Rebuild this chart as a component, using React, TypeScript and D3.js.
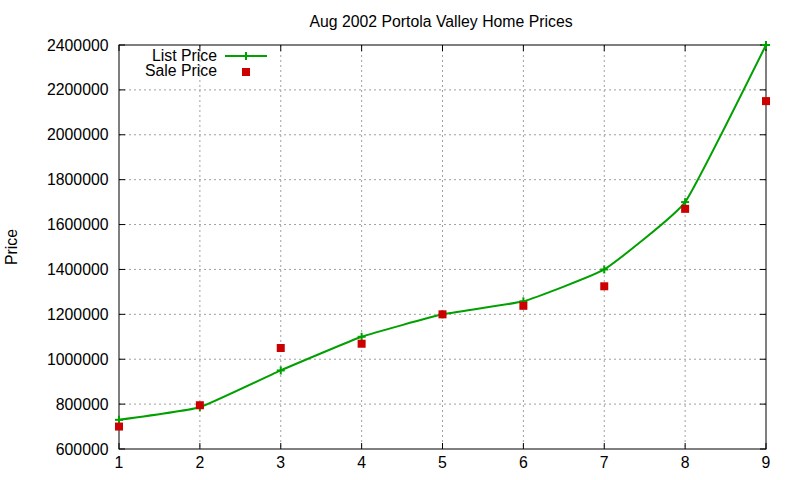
import React from "react";
import * as d3 from "d3";

const xValues = [1, 2, 3, 4, 5, 6, 7, 8, 9];
const listPrice = [730000, 786000, 950000, 1100000, 1200000, 1258000, 1400000, 1700000, 2400000];
const salePrice = [700000, 795000, 1050000, 1069000, 1200000, 1238000, 1325000, 1670000, 2150000];
const yTicks = [600000, 800000, 1000000, 1200000, 1400000, 1600000, 1800000, 2000000, 2200000, 2400000];
const xTicks = [1, 2, 3, 4, 5, 6, 7, 8, 9];
const title = "Aug 2002 Portola Valley Home Prices";
const yLabel = "Price";
const seriesNames = ["List Price", "Sale Price"];

export default function App() {
  const W = 800, H = 480;
  const left = 119, right = 766, top = 45, bottom = 449;
  const x = d3.scaleLinear().domain([1, 9]).range([left, right]);
  const y = d3.scaleLinear().domain([600000, 2400000]).range([bottom, top]);
  const green = "#00a000";
  const red = "#cc0000";
  const font = "'Liberation Sans', Arial, sans-serif";
  const fs = 15.8;
  const line = d3
    .line<number>()
    .x((_, i) => x(xValues[i]))
    .y((d) => y(d))
    .curve(d3.curveCardinal.tension(0.65));
  const tl = 6;
  return (
    <svg width={W} height={H} style={{ position: "absolute", left: 0, top: 0, background: "#fff" }} fontFamily={font}>
      <rect x={0} y={0} width={W} height={H} fill="#fff" />
      {/* grid */}
      {yTicks.slice(1, -1).map((t) => (
        <line key={"gy" + t} x1={left} x2={right} y1={y(t)} y2={y(t)} stroke="#a0a0a0" strokeWidth={1} strokeDasharray="2,3" />
      ))}
      {xTicks.slice(1, -1).map((t) => (
        <line key={"gx" + t} x1={x(t)} x2={x(t)} y1={top} y2={bottom} stroke="#a0a0a0" strokeWidth={1} strokeDasharray="2,3" />
      ))}
      {/* ticks */}
      {yTicks.map((t) => (
        <g key={"ty" + t}>
          <line x1={left} x2={left + tl} y1={y(t)} y2={y(t)} stroke="#000" />
          <line x1={right} x2={right - tl} y1={y(t)} y2={y(t)} stroke="#000" />
          <text x={108.5} y={y(t) + 5.5} textAnchor="end" fontSize={fs} fill="#000">
            {t}
          </text>
        </g>
      ))}
      {xTicks.map((t) => (
        <g key={"tx" + t}>
          <line x1={x(t)} x2={x(t)} y1={bottom} y2={bottom - tl} stroke="#000" />
          <line x1={x(t)} x2={x(t)} y1={top} y2={top + tl} stroke="#000" />
          <text x={x(t)} y={bottom + 19} textAnchor="middle" fontSize={fs} fill="#000">
            {t}
          </text>
        </g>
      ))}
      <rect x={left} y={top} width={right - left} height={bottom - top} fill="none" stroke="#000" strokeWidth={1} />
      {/* title & label */}
      <text x={441} y={27} textAnchor="middle" fontSize={fs} fill="#000">
        {title}
      </text>
      <text transform={`translate(17,${(top + bottom) / 2}) rotate(-90)`} textAnchor="middle" fontSize={fs} fill="#000">
        {yLabel}
      </text>
      {/* list line */}
      <path d={line(listPrice) || ""} fill="none" stroke={green} strokeWidth={2} />
      {listPrice.map((v, i) => (
        <g key={"lp" + i} stroke={green} strokeWidth={2}>
          <line x1={x(xValues[i]) - 4} x2={x(xValues[i]) + 4} y1={y(v)} y2={y(v)} />
          <line x1={x(xValues[i])} x2={x(xValues[i])} y1={y(v) - 4} y2={y(v) + 4} />
        </g>
      ))}
      {salePrice.map((v, i) => (
        <rect key={"sp" + i} x={x(xValues[i]) - 4} y={y(v) - 4} width={8} height={8} fill={red} />
      ))}
      {/* legend */}
      <text x={217} y={60.5} textAnchor="end" fontSize={fs} fill="#000">
        {seriesNames[0]}
      </text>
      <line x1={225} x2={267} y1={56} y2={56} stroke={green} strokeWidth={2} />
      <line x1={246} x2={246} y1={52} y2={60} stroke={green} strokeWidth={2} />
      <text x={217} y={76} textAnchor="end" fontSize={fs} fill="#000">
        {seriesNames[1]}
      </text>
      <rect x={242} y={68} width={8} height={8} fill={red} />
    </svg>
  );
}
